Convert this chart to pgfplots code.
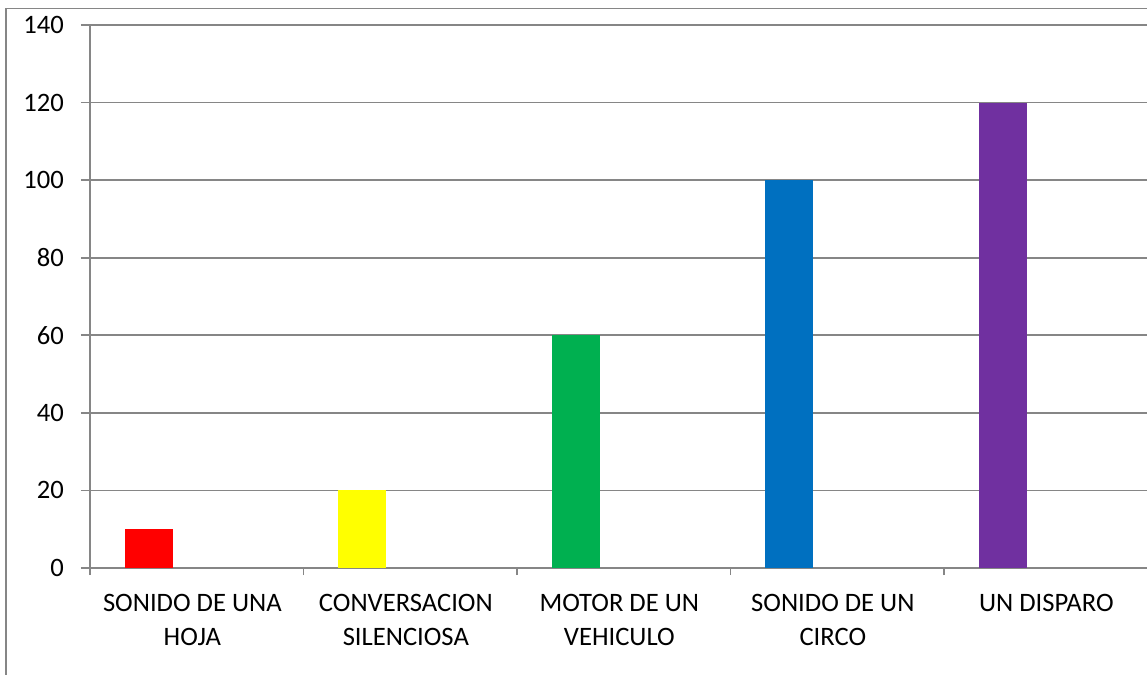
\documentclass[border=0pt]{standalone}
\usepackage{fontspec}
\setmainfont{Carlito}
\usepackage{pgfplots}
\pgfplotsset{compat=1.18}
\usetikzlibrary{calc}
\definecolor{gridgray}{HTML}{868686}
\definecolor{xlred}{HTML}{FF0000}
\definecolor{xlyellow}{HTML}{FFFF00}
\definecolor{xlgreen}{HTML}{00B050}
\definecolor{xlblue}{HTML}{0070C0}
\definecolor{xlpurple}{HTML}{7030A0}
\begin{document}
\begin{tikzpicture}
\begin{axis}[
  scale only axis, width=533.75pt, height=271.5pt,
  xmin=-0.5, xmax=4.5, ymin=0, ymax=140,
  ybar, bar width=24pt,
  axis lines*=left,
  axis line style={gridgray, line width=0.9pt},
  ymajorgrids, grid style={gridgray, line width=0.9pt},
  ytick={0,20,...,140},
  xtick={0,1,2,3,4},
  minor xtick={-0.5,0.5,1.5,2.5,3.5,4.5},
  xticklabels={{SONIDO DE UNA\\HOJA},{CONVERSACION\\SILENCIOSA},{MOTOR DE UN\\VEHICULO},{SONIDO DE UN\\CIRCO},{UN DISPARO}},
  major x tick style={draw=none},
  minor x tick style={gridgray, line width=0.9pt},
  ytick style={gridgray, line width=0.9pt},
  tick align=outside,
  major tick length=4.5pt, minor tick length=3.5pt,
  /pgf/number format/assume math mode=true,
  tick label style={font=\fontsize{13.3}{17.2}\selectfont, text=black},
  yticklabel style={xshift=-5pt},
  xticklabel style={align=center, yshift=-5pt, xshift=-2.2pt},
  clip=false,
]
\addplot[fill=xlred, draw=none, bar shift=-24pt] coordinates {(0,10)};
\addplot[fill=xlyellow, draw=none, bar shift=-24pt] coordinates {(1,20)};
\addplot[fill=xlgreen, draw=none, bar shift=-24pt] coordinates {(2,60)};
\addplot[fill=xlblue, draw=none, bar shift=-24pt] coordinates {(3,100)};
\addplot[fill=xlpurple, draw=none, bar shift=-24pt] coordinates {(4,120)};
\coordinate (O) at (axis cs:-0.5,0);
\end{axis}
\pgfresetboundingbox
\path[use as bounding box] ($(O)+(-45pt,-53.5pt)$) rectangle ++(573.5pt,337.5pt);
\draw[gridgray, line width=0.85pt] ($(O)+(-42pt,-60pt)$) -- ($(O)+(-42pt,279.8pt)$) -- ++(620pt,0pt);
\end{tikzpicture}
\end{document}
